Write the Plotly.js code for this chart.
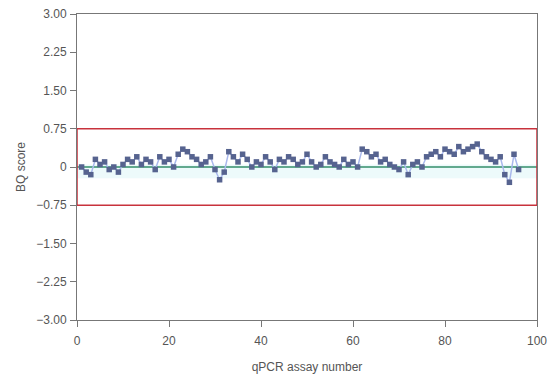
<!DOCTYPE html>
<html>
<head>
<meta charset="utf-8">
<script src="https://cdn.plot.ly/plotly-3.0.1.min.js"></script>
<style>html,body{margin:0;padding:0;background:#fff;}#chart{width:554px;height:374px;}</style>
</head>
<body>
<div id="chart"></div>
<script>
const assayNumbers = Array.from({length: 96}, (_, i) => i + 1);
const bqScores = [
  0.0, -0.1, -0.15, 0.15, 0.05, 0.1, -0.05, 0.0, -0.1, 0.05,
  0.15, 0.1, 0.2, 0.05, 0.15, 0.1, -0.05, 0.2, 0.1, 0.15,
  0.0, 0.25, 0.35, 0.3, 0.2, 0.15, 0.05, 0.1, 0.2, -0.05,
  -0.25, -0.1, 0.3, 0.2, 0.1, 0.25, 0.15, 0.0, 0.1, 0.05,
  0.2, 0.1, -0.05, 0.15, 0.1, 0.2, 0.15, 0.05, 0.1, 0.25,
  0.1, 0.0, 0.05, 0.2, 0.1, 0.05, 0.0, 0.15, 0.05, 0.1,
  0.0, 0.35, 0.3, 0.2, 0.25, 0.1, 0.15, 0.05, 0.0, -0.05,
  0.1, -0.15, 0.05, 0.1, 0.0, 0.2, 0.25, 0.3, 0.2, 0.35,
  0.3, 0.25, 0.4, 0.3, 0.35, 0.4, 0.45, 0.3, 0.2, 0.15,
  0.1, 0.2, -0.15, -0.3, 0.25, -0.05
];
const yTickVals = [3, 2.25, 1.5, 0.75, 0, -0.75, -1.5, -2.25, -3];
const yTickText = ["3.00", "2.25", "1.50", "0.75", "0", "\u22120.75", "\u22121.50", "\u22122.25", "\u22123.00"];
const xTickVals = [0, 20, 40, 60, 80, 100];
const limitUpper = 0.75, limitLower = -0.75;

const traces = [{
  x: assayNumbers, y: bqScores, type: 'scatter', mode: 'lines+markers',
  line: {color: '#a9b8ec', width: 1.5},
  marker: {symbol: 'square', size: 5.5, color: '#56638f'},
  hoverinfo: 'x+y', showlegend: false
}];

const axisCommon = {
  showgrid: false, zeroline: false, showline: true, linecolor: '#777', linewidth: 1,
  mirror: true, ticks: 'outside', ticklen: 6, tickcolor: '#777',
  tickfont: {family: 'Liberation Sans, Arial, sans-serif', size: 12, color: '#555'}
};

const layout = {
  width: 554, height: 374,
  margin: {l: 77, r: 17, t: 14, b: 54},
  paper_bgcolor: '#fff', plot_bgcolor: '#fff',
  font: {family: 'Liberation Sans, Arial, sans-serif', color: '#555'},
  xaxis: Object.assign({}, axisCommon, {
    range: [0, 100], tickvals: xTickVals, ticklabelstandoff: 4,
    title: {text: 'qPCR assay number', standoff: 15, font: {size: 12, color: '#555'}}
  }),
  yaxis: Object.assign({}, axisCommon, {
    range: [-3, 3], tickvals: yTickVals, ticktext: yTickText, ticklabelstandoff: 1,
    title: {text: 'BQ score', standoff: 8, font: {size: 12, color: '#555'}}
  }),
  shapes: [
    {type: 'rect', xref: 'x', yref: 'y', x0: 0, x1: 100, y0: -0.22, y1: 0.05,
     fillcolor: 'rgba(215,243,247,0.45)', line: {width: 0}, layer: 'below'},
    {type: 'line', xref: 'x', yref: 'y', x0: 0, x1: 100, y0: 0, y1: 0,
     line: {color: '#62a98e', width: 2}, layer: 'below'},
    {type: 'rect', xref: 'x', yref: 'y', x0: 0, x1: 100, y0: limitLower, y1: limitUpper,
     line: {color: '#c8323c', width: 1.5}, fillcolor: 'rgba(0,0,0,0)'}
  ]
};

Plotly.newPlot('chart', traces, layout, {displayModeBar: false, staticPlot: true});
</script>
</body>
</html>
